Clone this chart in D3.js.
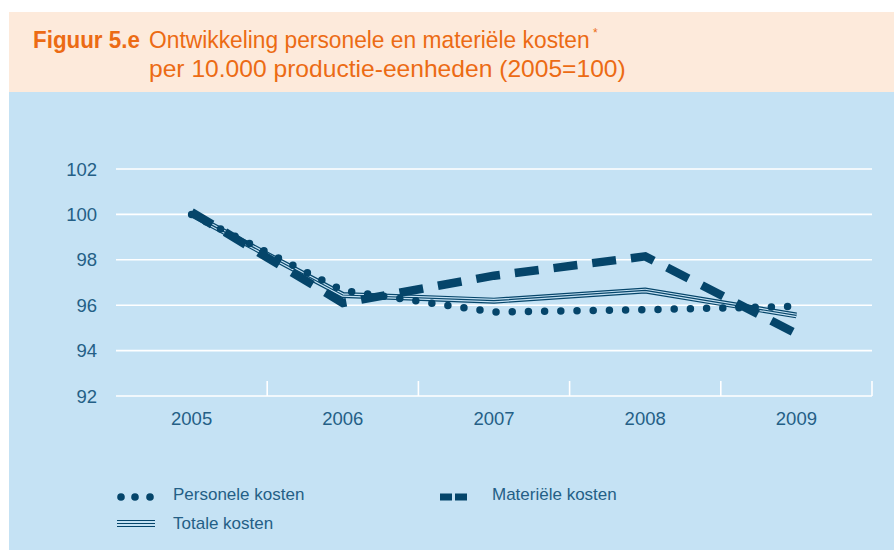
<!DOCTYPE html>
<html>
<head>
<meta charset="utf-8">
<script src="https://cdn.jsdelivr.net/npm/d3@7"></script>
<style>
  body { margin: 0; background: #fff; }
  svg { display: block; }
</style>
</head>
<body>
<svg id="chart" width="894" height="550"></svg>
<script>
// data
const years = ["2005", "2006", "2007", "2008", "2009"];
const personele = [100.0, 96.65, 95.7, 95.8, 95.95];
const materiele = [100.1, 96.1, 97.3, 98.15, 94.75];
const totale = [100.0, 96.45, 96.2, 96.65, 95.55];
const yTicks = [92, 94, 96, 98, 100, 102];

const dark = "#05456a";
const labelColor = "#245f86";
const orange = "#ec6b14";

const svg = d3.select("#chart");

// header band + chart panel
svg.append("rect").attr("x", 9).attr("y", 12).attr("width", 885).attr("height", 80).attr("fill", "#fdeadb");
svg.append("rect").attr("x", 9).attr("y", 92).attr("width", 885).attr("height", 458).attr("fill", "#c5e2f4");

// the figure uses a condensed face; squeeze a regular one horizontally to the same width
const titleFont = "'Liberation Sans', Arial, sans-serif";
function title(txt, xx, yy, w, bold) {
  const t = svg.append("text")
    .attr("font-family", titleFont).attr("font-size", 24)
    .attr("font-weight", bold ? "bold" : "normal")
    .attr("fill", orange)
    .text(txt);
  const sx = w / t.node().getComputedTextLength();
  t.attr("transform", `translate(${xx},${yy}) scale(${sx},1)`);
  return t;
}
title("Figuur 5.e", 33, 48, 107, true);
title("Ontwikkeling personele en materiële kosten", 149, 48, 441, false);
svg.append("text").attr("x", 593).attr("y", 37)
  .attr("font-family", titleFont).attr("font-size", 12).attr("fill", orange).text("*");
title("per 10.000 productie-eenheden (2005=100)", 149, 77, 477, false);

// scales
const x = d3.scaleBand().domain(years).range([116, 872]);
const y = d3.scaleLinear().domain([92, 102]).range([396, 169]);
const cx = d => x(d) + x.bandwidth() / 2;

// grid
const g = svg.append("g");
g.selectAll("line.grid").data(yTicks).join("line")
  .attr("class", "grid")
  .attr("x1", 116).attr("x2", 872)
  .attr("y1", d => y(d)).attr("y2", d => y(d))
  .attr("stroke", "#fff").attr("stroke-width", 1.6);

// category separator ticks
const seps = years.slice(1).map(d => x(d)).concat([x.range()[1]]);
g.selectAll("line.sep").data(seps).join("line")
  .attr("x1", d => d).attr("x2", d => d)
  .attr("y1", y(92)).attr("y2", y(92) - 15)
  .attr("stroke", "#fff").attr("stroke-width", 1.6);

// y labels
g.selectAll("text.ylab").data(yTicks).join("text")
  .attr("x", 97).attr("y", d => y(d) + 6.5)
  .attr("text-anchor", "end")
  .attr("font-family", "'Liberation Sans', Arial, sans-serif")
  .attr("font-size", 18.5).attr("fill", labelColor)
  .text(d => d);

// x labels
g.selectAll("text.xlab").data(years).join("text")
  .attr("x", d => cx(d)).attr("y", 425)
  .attr("text-anchor", "middle")
  .attr("font-family", "'Liberation Sans', Arial, sans-serif")
  .attr("font-size", 18.5).attr("fill", labelColor)
  .text(d => d);

const line = d3.line().x((d, i) => cx(years[i])).y(d => y(d));

// totale kosten: triple-stroke line
const lines = svg.append("g").attr("fill", "none");
lines.append("path").attr("d", line(totale)).attr("stroke", dark).attr("stroke-width", 6);
lines.append("path").attr("d", line(totale)).attr("stroke", "#c5e2f4").attr("stroke-width", 3.6);
lines.append("path").attr("d", line(totale)).attr("stroke", dark).attr("stroke-width", 1.2);

// personele kosten: dots
lines.append("path").attr("d", line(personele))
  .attr("stroke", dark).attr("stroke-width", 7.5)
  .attr("stroke-linecap", "round").attr("stroke-dasharray", "0 16.2");

// materiele kosten: heavy dashes
lines.append("path").attr("d", line(materiele))
  .attr("stroke", dark).attr("stroke-width", 8.5)
  .attr("stroke-dasharray", "24 15");

// legend
const leg = svg.append("g").attr("font-family", "'Liberation Sans', Arial, sans-serif")
  .attr("font-size", 17).attr("fill", labelColor);

leg.selectAll("circle").data([121, 135, 150]).join("circle")
  .attr("cx", d => d).attr("cy", 497).attr("r", 3.8).attr("fill", dark);
leg.append("text").attr("x", 173).attr("y", 500).text("Personele kosten");

leg.selectAll("rect").data([440, 455]).join("rect")
  .attr("x", d => d).attr("y", 493.5).attr("width", 12).attr("height", 7).attr("fill", dark);
leg.append("text").attr("x", 492).attr("y", 500).text("Materiële kosten");

[520.5, 523.5, 526.5].forEach(yy => {
  leg.append("line").attr("x1", 117).attr("x2", 155).attr("y1", yy).attr("y2", yy)
    .attr("stroke", dark).attr("stroke-width", 1.2);
});
leg.append("text").attr("x", 173).attr("y", 529).text("Totale kosten");
</script>
</body>
</html>
